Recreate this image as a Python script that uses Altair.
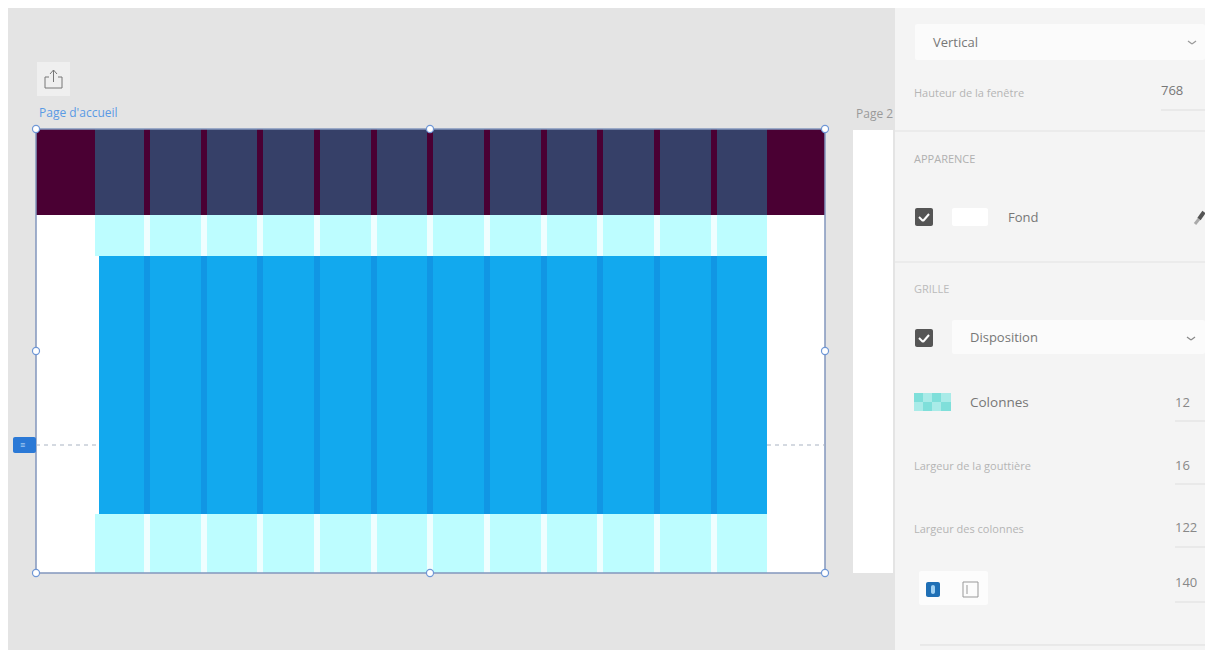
import altair as alt
import pandas as pd

# --- canvas ---
X_DOMAIN = [8, 1205]
Y_DOMAIN = [650, 8]

# --- artboard layout grid ---
gutter_starts = [144, 201, 257, 314, 371, 427, 484, 541, 597, 654, 711]
gutter_ends = [150, 207, 263, 320, 377, 433, 490, 547, 603, 660, 717]
grid_left = 95
grid_right = 767
blue_left = 99
art_left, art_right, art_top, art_bottom = 36, 825, 129, 573
band_bottom, blue_top, blue_bottom = 215, 256, 514

# --- generic rectangles: panels and controls ---
box_x0 = [8, 36, 36, 853, 895, 895, 895, 37]
box_x1 = [1205, 825, 825, 893, 1205, 1205, 1205, 70]
box_y0 = [8, 129, 129, 130, 8, 130, 261, 62]
box_y1 = [650, 573, 215, 573, 650, 132, 263, 96]
box_fill = ["#e4e4e4", "#ffffff", "#4a0033", "#ffffff", "#f4f4f4", "#ebebeb", "#ebebeb", "#efefef"]

control_x0 = [915, 952, 915, 952, 915, 919, 926, 931]
control_x1 = [1205, 988, 933, 1205, 933, 988, 940, 935]
control_y0 = [24, 208, 208, 320, 329, 571, 582, 585]
control_y1 = [60, 226, 226, 354, 347, 605, 597, 594]
control_fill = ["#fbfbfb", "#ffffff", "#555555", "#fbfbfb", "#555555", "#fcfcfc", "#1f6fb5", "#9fd0f2"]

swatch_x0 = [914, 923, 932, 941, 914, 923, 932, 941]
swatch_x1 = [923, 932, 941, 951, 923, 932, 941, 951]
swatch_y0 = [393, 393, 393, 393, 402, 402, 402, 402]
swatch_y1 = [402, 402, 402, 402, 411, 411, 411, 411]
swatch_fill = ["#7fdfda", "#a9ebe8", "#7fdfda", "#a9ebe8", "#a9ebe8", "#7fdfda", "#a9ebe8", "#7fdfda"]

tag_x0, tag_x1, tag_y0, tag_y1, tag_fill = [13], [36], [437], [453], ["#2b79d6"]

# --- thin strokes: underlines, icons, carets, ticks ---
seg_x0 = [1161, 1175, 1175, 1175, 1175, 920,
          45, 45, 62, 45, 58, 53.5, 53.5, 53.5,
          1188, 1192, 1187, 1191,
          1195, 1199,
          919, 923, 919, 923,
          963, 963, 978, 963, 967]
seg_x1 = [1205, 1205, 1205, 1205, 1205, 1205,
          45, 62, 62, 49, 62, 53.5, 50, 57,
          1192, 1196, 1191, 1195,
          1199, 1204,
          923, 929, 923, 929,
          978, 963, 978, 978, 967]
seg_y0 = [110, 421, 484, 547, 602, 645,
          77, 88, 88, 77, 77, 70, 70, 70,
          41, 44, 337, 340,
          224, 219,
          217, 221, 338, 342,
          582, 582, 582, 597, 585]
seg_y1 = [110, 421, 484, 547, 602, 645,
          88, 88, 77, 77, 77, 82, 74, 74,
          44, 41, 340, 337,
          219, 212,
          221, 214, 342, 335,
          582, 597, 597, 597, 594]
seg_color = ["#dedede"] * 5 + ["#dddddd"] + ["#777777"] * 8 + ["#999999"] * 2 + ["#888888"] * 2 \
    + ["#aaaaaa", "#555555"] + ["#ffffff"] * 4 + ["#999999"] * 5
seg_width = [1] * 6 + [1] * 8 + [1.2] * 4 + [3, 4] + [2] * 4 + [1] * 5

# --- artboard outline and handles ---
handle_x = [36, 430, 825, 36, 825, 36, 430, 825]
handle_y = [129, 129, 129, 351, 351, 573, 573, 573]
dash_x0 = [36, 767]
dash_x1 = [96, 825]
dash_y = [445, 445]

# --- texts ---
label_text = ["Page d'accueil", "Page 2", "Vertical", "Hauteur de la fenêtre", "768", "APPARENCE", "Fond",
              "GRILLE", "Disposition", "Colonnes", "12", "Largeur de la gouttière", "16",
              "Largeur des colonnes", "122", "140", "≡"]
label_x = [39, 856, 933, 914, 1161, 914, 1008, 914, 970, 970, 1175, 914, 1175, 914, 1175, 1175, 20]
label_y = [113, 114, 43, 94, 91, 160, 218, 290, 338, 403, 403, 467, 466, 530, 528, 583, 445]
label_size = [12, 12, 13, 11, 13, 11, 13, 11, 13, 13.5, 13, 11, 13, 11, 13, 13, 9]
label_color = ["#5a9ae4", "#9a9a9a", "#777777", "#b5b5b5", "#777777", "#b0b0b0", "#777777", "#bbbbbb",
               "#777777", "#777777", "#888888", "#b5b5b5", "#888888", "#b5b5b5", "#888888", "#888888", "#cfe4fa"]

# --- derived grid rectangles ---
col_starts = [grid_left] + gutter_ends
col_ends = gutter_starts + [grid_right]
grid_rows = []
for a, b in zip(col_starts, col_ends):
    grid_rows.append((a, b, art_top, band_bottom, "#364068"))
for a, b in zip(col_starts, col_ends):
    grid_rows.append((a, b, band_bottom, blue_top, "#bdfdff"))
    grid_rows.append((a, b, blue_bottom, art_bottom, "#bdfdff"))
for a, b in zip(gutter_starts, gutter_ends):
    grid_rows.append((a, b, band_bottom, blue_top, "#effeff"))
    grid_rows.append((a, b, blue_bottom, art_bottom, "#effeff"))
grid_rows.append((blue_left, grid_right, blue_top, blue_bottom, "#12a9ee"))
for a, b in zip(gutter_starts, gutter_ends):
    grid_rows.append((a, b, blue_top, blue_bottom, "#1196e4"))

rects = pd.DataFrame({"x0": box_x0, "x1": box_x1, "y0": box_y0, "y1": box_y1, "fill": box_fill})
grid = pd.DataFrame(grid_rows, columns=["x0", "x1", "y0", "y1", "fill"])
controls = pd.DataFrame({"x0": control_x0, "x1": control_x1, "y0": control_y0, "y1": control_y1, "fill": control_fill})
swatch = pd.DataFrame({"x0": swatch_x0, "x1": swatch_x1, "y0": swatch_y0, "y1": swatch_y1, "fill": swatch_fill})
tag = pd.DataFrame({"x0": tag_x0, "x1": tag_x1, "y0": tag_y0, "y1": tag_y1, "fill": tag_fill})
segs = pd.DataFrame({"x0": seg_x0, "x1": seg_x1, "y0": seg_y0, "y1": seg_y1, "c": seg_color, "w": seg_width})
outline = pd.DataFrame({"x0": [art_left], "x1": [art_right], "y0": [art_top], "y1": [art_bottom]})
handles = pd.DataFrame({"x": handle_x, "y": handle_y})
dashes = pd.DataFrame({"x0": dash_x0, "x1": dash_x1, "y": dash_y})
labels = pd.DataFrame({"t": label_text, "x": label_x, "y": label_y, "s": label_size, "c": label_color})

xs = alt.Scale(domain=X_DOMAIN, nice=False, zero=False)
ys = alt.Scale(domain=Y_DOMAIN, nice=False, zero=False)


def rect_layer(df, radius=0):
    return alt.Chart(df).mark_rect(cornerRadius=radius).encode(
        x=alt.X("x0:Q", scale=xs, axis=None),
        x2="x1:Q",
        y=alt.Y("y0:Q", scale=ys, axis=None),
        y2="y1:Q",
        color=alt.Color("fill:N", scale=None),
    )


seg_layer = alt.Chart(segs).mark_rule().encode(
    x=alt.X("x0:Q", scale=xs, axis=None),
    x2="x1:Q",
    y=alt.Y("y0:Q", scale=ys, axis=None),
    y2="y1:Q",
    color=alt.Color("c:N", scale=None),
    strokeWidth=alt.StrokeWidth("w:Q", scale=None),
)

dash_layer = alt.Chart(dashes).mark_rule(color="#a9b3c2", strokeDash=[4, 4], strokeWidth=1).encode(
    x=alt.X("x0:Q", scale=xs, axis=None),
    x2="x1:Q",
    y=alt.Y("y:Q", scale=ys, axis=None),
)

outline_layer = alt.Chart(outline).mark_rect(fill=None, stroke="#8296bd", strokeWidth=1.5).encode(
    x=alt.X("x0:Q", scale=xs, axis=None),
    x2="x1:Q",
    y=alt.Y("y0:Q", scale=ys, axis=None),
    y2="y1:Q",
)

handle_layer = alt.Chart(handles).mark_point(
    filled=True, fill="#ffffff", stroke="#6f97d6", strokeWidth=1.2, opacity=1, size=50
).encode(
    x=alt.X("x:Q", scale=xs, axis=None),
    y=alt.Y("y:Q", scale=ys, axis=None),
)

text_layer = alt.Chart(labels).mark_text(align="left", baseline="middle", font="Open Sans").encode(
    x=alt.X("x:Q", scale=xs, axis=None),
    y=alt.Y("y:Q", scale=ys, axis=None),
    text="t:N",
    size=alt.Size("s:Q", scale=None),
    color=alt.Color("c:N", scale=None),
)

chart = alt.layer(
    rect_layer(rects),
    rect_layer(grid),
    outline_layer,
    dash_layer,
    rect_layer(tag, 2),
    rect_layer(controls, 2),
    rect_layer(swatch),
    seg_layer,
    handle_layer,
    text_layer,
).properties(
    width=1197,
    height=642,
    padding=0,
    autosize=alt.AutoSizeParams(type="none"),
    background="#ffffff",
).configure_view(stroke=None)

chart.save("out.html", embed_options={"renderer": "svg", "actions": False})
